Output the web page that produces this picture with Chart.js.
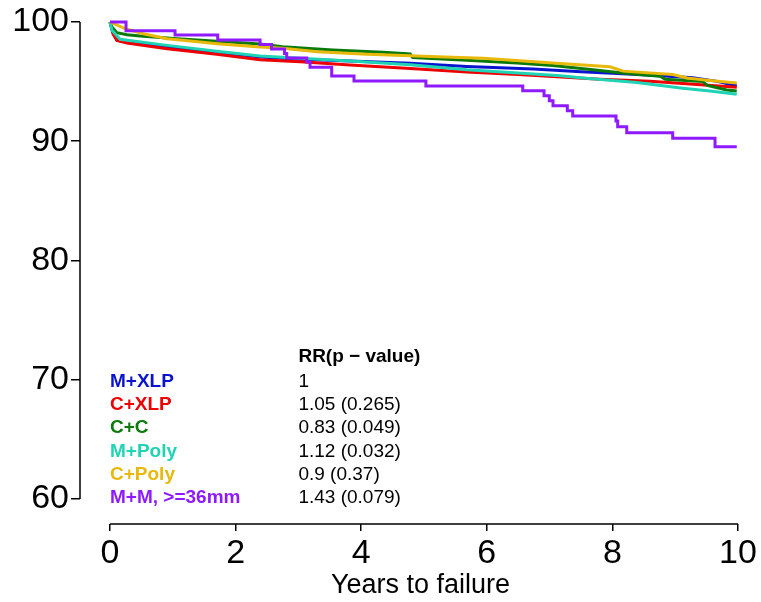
<!DOCTYPE html>
<html>
<head>
<meta charset="utf-8">
<script src="https://cdn.jsdelivr.net/npm/chart.js@4.4.1/dist/chart.umd.min.js"></script>
<style>
html,body{margin:0;padding:0;background:#fff;}
#c{display:block;}
</style>
</head>
<body>
<canvas id="c" width="761" height="602"></canvas>
<script>
// ---- data (years, survival %) ----
const groups = ["M+XLP", "C+XLP", "C+C", "M+Poly", "C+Poly", "M+M, >=36mm"];
const rrLabels = ["1", "1.05 (0.265)", "0.83 (0.049)", "1.12 (0.032)", "0.9 (0.37)", "1.43 (0.079)"];
const colors = ["#0a14cf", "#ee0000", "#0a7a0a", "#1fd4b4", "#e8b80a", "#8f1aff"];

const mxlpT = [0, 0.048, 0.11, 0.27, 0.91, 1.70, 2.39, 3.03, 3.82, 4.78, 5.68, 6.74, 7.5, 8.33, 8.76, 9.28, 9.67, 9.85, 9.98];
const mxlpS = [100, 99.1, 98.5, 98.27, 97.9, 97.48, 97.06, 96.88, 96.72, 96.55, 96.27, 96.05, 95.82, 95.62, 95.5, 95.33, 95.02, 94.8, 94.65];

const cxlpT = [0, 0.048, 0.11, 0.27, 0.91, 1.70, 2.39, 3.03, 3.82, 4.78, 5.68, 6.5, 7.12, 7.8, 8.6, 9.12, 9.47, 9.98];
const cxlpS = [100, 99.0, 98.46, 98.24, 97.76, 97.29, 96.84, 96.67, 96.39, 96.1, 95.8, 95.6, 95.4, 95.2, 95.03, 94.85, 94.72, 94.52];

const ccT = [0, 0.03, 0.11, 0.27, 0.48, 1.07, 1.70, 2.39, 2.75, 3.55, 4.35, 4.78, 4.82, 5.68, 6.48, 7.05, 7.69, 8.23, 8.76, 8.84, 9.44, 9.51, 9.82, 9.98];
const ccS = [100, 99.58, 99.1, 98.94, 98.83, 98.6, 98.38, 98.16, 97.93, 97.65, 97.46, 97.33, 97.02, 96.8, 96.57, 96.35, 96.0, 95.68, 95.45, 95.2, 95.0, 94.68, 94.3, 94.22];

const mpolyT = [0, 0.03, 0.16, 0.91, 1.70, 2.39, 3.03, 3.82, 4.78, 5.68, 6.5, 7.17, 7.53, 8.39, 9.12, 9.55, 9.98];
const mpolyS = [100, 99.3, 98.55, 98.04, 97.54, 97.15, 96.95, 96.73, 96.42, 96.0, 95.72, 95.5, 95.3, 94.92, 94.45, 94.21, 93.94];

const cpolyT = [0, 0.24, 0.53, 0.91, 1.16, 1.70, 2.39, 2.75, 3.30, 4.09, 4.78, 5.21, 5.94, 6.53, 7.17, 7.96, 8.17, 8.96, 9.19, 9.55, 9.98];
const cpolyS = [100, 99.44, 99.02, 98.6, 98.46, 98.18, 97.9, 97.79, 97.51, 97.29, 97.17, 97.09, 96.95, 96.76, 96.52, 96.25, 95.88, 95.6, 95.3, 95.1, 94.88];

const mmT = [0, 0.255, 1.035, 1.715, 2.389, 2.572, 2.779, 2.814, 3.132, 3.185, 3.53, 3.885, 5.03, 6.572, 6.911, 6.995, 7.054, 7.282, 7.368, 8.057, 8.084, 8.228, 8.96, 9.634, 9.98];
const mmS = [100, 99.27, 98.91, 98.49, 98.11, 97.74, 97.36, 96.98, 96.65, 96.2, 95.47, 95.05, 94.63, 94.24, 93.82, 93.4, 92.98, 92.56, 92.12, 91.7, 91.22, 90.72, 90.25, 89.54, 89.54];

const xTicks = [0, 2, 4, 6, 8, 10];
const yTicks = [60, 70, 80, 90, 100];

const seriesT = [mxlpT, cxlpT, ccT, mpolyT, cpolyT, mmT];
const seriesS = [mxlpS, cxlpS, ccS, mpolyS, cpolyS, mmS];
const drawOrder = [5, 4, 3, 2, 1, 0];
const stepped = [false, false, false, false, false, true];

const FONT = '"Liberation Sans", Arial, sans-serif';

const datasets = groups.map((g, i) => ({
  label: g,
  data: seriesT[i].map((t, k) => ({x: t, y: seriesS[i][k]})),
  borderColor: colors[i],
  backgroundColor: colors[i],
  borderWidth: 3,
  pointRadius: 0,
  tension: 0,
  stepped: stepped[i],
  order: drawOrder[i],
  fill: false
}));

const axisPlugin = {
  id: 'rAxes',
  afterDraw(chart) {
    const ctx = chart.ctx;
    const xs = chart.scales.x, ys = chart.scales.y;
    const a = chart.chartArea;
    ctx.save();
    ctx.strokeStyle = '#000';
    ctx.lineWidth = 1.5;
    ctx.beginPath();
    ctx.moveTo(a.left, ys.getPixelForValue(yTicks[0]));
    ctx.lineTo(a.left, ys.getPixelForValue(yTicks[yTicks.length - 1]));
    ctx.moveTo(xs.getPixelForValue(xTicks[0]), a.bottom);
    ctx.lineTo(xs.getPixelForValue(xTicks[xTicks.length - 1]), a.bottom);
    ctx.stroke();

    // legend table
    ctx.textBaseline = 'middle';
    ctx.textAlign = 'left';
    const y0 = 69.84, step = 1.95;
    ctx.font = 'bold 19px ' + FONT;
    ctx.fillStyle = '#000';
    ctx.fillText('RR(p \u2212 value)', xs.getPixelForValue(3.0), ys.getPixelForValue(y0 + 2.1));
    groups.forEach((g, i) => {
      const py = ys.getPixelForValue(y0 - i * step);
      ctx.font = 'bold 19px ' + FONT;
      ctx.fillStyle = colors[i];
      ctx.fillText(g, xs.getPixelForValue(0), py);
      ctx.font = '19px ' + FONT;
      ctx.fillStyle = '#000';
      ctx.fillText(rrLabels[i], xs.getPixelForValue(3.0), py);
    });
    ctx.restore();
  }
};

new Chart(document.getElementById('c'), {
  type: 'line',
  data: {datasets},
  plugins: [axisPlugin],
  options: {
    responsive: false,
    animation: false,
    layout: {padding: {top: 0, right: 0, bottom: 0, left: 0}},
    plugins: {legend: {display: false}, tooltip: {enabled: false}},
    scales: {
      x: {
        type: 'linear',
        min: -0.478,
        max: 10.366,
        afterBuildTicks: s => { s.ticks = xTicks.map(v => ({value: v})); },
        afterFit: s => { s.height = 78; s.paddingLeft = 0; s.paddingRight = 0; },
        grid: {display: true, drawOnChartArea: false, drawTicks: true, tickLength: 7, color: '#000', lineWidth: 1.5},
        border: {display: false},
        ticks: {color: '#000', font: {family: FONT, size: 34}, padding: 2, maxRotation: 0, autoSkip: false},
        title: {display: true, text: 'Years to failure', color: '#000', font: {family: FONT, size: 27}, padding: {top: 0, bottom: 0}}
      },
      y: {
        type: 'linear',
        min: 57.9,
        max: 101.845,
        afterBuildTicks: s => { s.ticks = yTicks.map(v => ({value: v})); },
        afterFit: s => { s.width = 80; s.paddingTop = 0; s.paddingBottom = 0; },
        grid: {display: true, drawOnChartArea: false, drawTicks: true, tickLength: 9, color: '#000', lineWidth: 1.5},
        border: {display: false},
        ticks: {color: '#000', font: {family: FONT, size: 34}, padding: 2, autoSkip: false}
      }
    }
  }
});
</script>
</body>
</html>
